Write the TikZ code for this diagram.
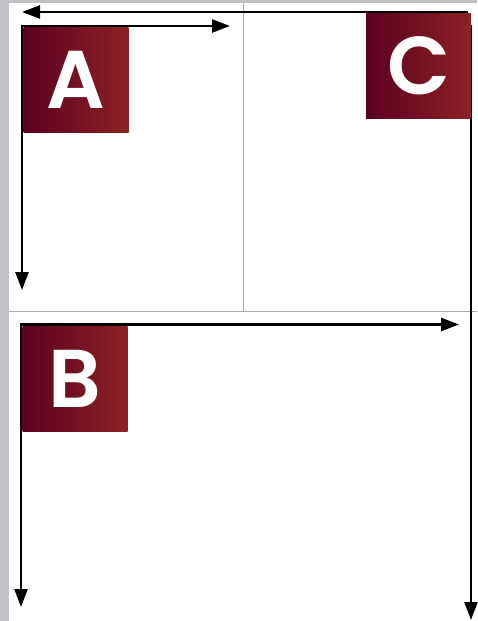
\documentclass[tikz,border=0pt]{standalone}
\usepackage{fontspec}
\setmainfont{Poppins}
\newfontfamily\letterfont{Poppins SemiBold}
\usetikzlibrary{arrows.meta}
\definecolor{stripgray}{RGB}{192,193,197}
\definecolor{panelline}{RGB}{170,170,170}
\definecolor{maroonL}{RGB}{93,0,33}
\definecolor{maroonR}{RGB}{139,35,36}
\tikzset{
  letterbox/.style={draw=none, inner sep=0pt, minimum width=105pt, minimum height=105pt,
    left color=maroonL, right color=maroonR, text=white,
    font=\letterfont\fontsize{82}{82}\selectfont, anchor=north west},
  axisarrow/.style={line width=2.5pt, -{Triangle[length=18pt,width=13pt]}},
  divider/.style={draw=panelline, line width=1pt}
}
\begin{document}
\begin{tikzpicture}[x=1pt,y=-1pt]
\useasboundingbox (0,0) rectangle (477,621);
% background
\fill[stripgray] (0,0) rectangle (477,621);
\fill[white] (9,3) rectangle (477,621);
% panel dividers
\coordinate (vdtop) at (243.5,3);
\coordinate (vdbot) at (243.5,311.5);
\coordinate (hdl) at (9,311.5);
\coordinate (hdr) at (477,311.5);
\draw[divider] (vdtop) -- (vdbot);
\draw[divider] (hdl) -- (hdr);
% arrows C
\coordinate (ctop) at (468,12);
\coordinate (ctip) at (22,12);
\coordinate (cvs) at (471,25);
\coordinate (cvt) at (471,620);
\draw[axisarrow] (ctop) -- (ctip);
\draw[axisarrow] (cvs) -- (cvt);
% arrows A
\coordinate (acorner) at (22,26);
\coordinate (aright) at (230,26);
\coordinate (adown) at (22,290);
\draw[axisarrow] ([xshift=-1.25pt]acorner) -- (aright);
\draw[axisarrow] (acorner) -- (adown);
% arrows B
\coordinate (bcorner) at (21,324.5);
\coordinate (bright) at (459,324.5);
\coordinate (bdown) at (21,607);
\draw[axisarrow] ([xshift=-1.25pt]bcorner) -- (bright);
\draw[axisarrow] (bcorner) -- (bdown);
% letter boxes
\node[letterbox] (A) at (23.5,27.5) {A};
\node[letterbox] (B) at (22.5,326) {B};
\node[letterbox] (C) at (366,13.5) {C};
\end{tikzpicture}
\end{document}
